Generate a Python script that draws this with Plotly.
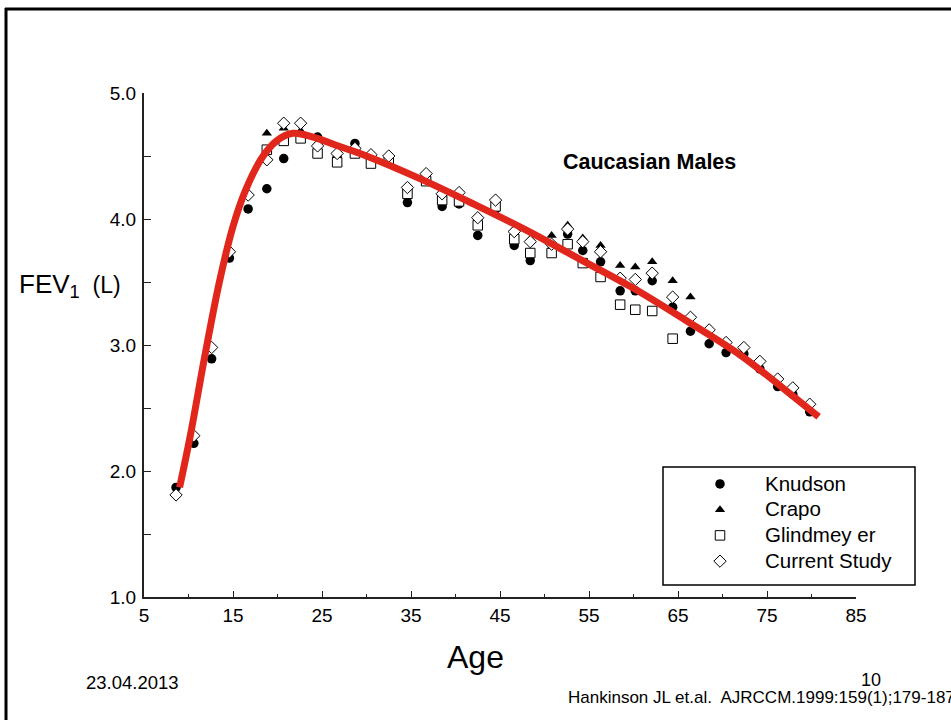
import plotly.graph_objects as go

# ---- data ----
ages = [8.6, 10.6, 12.6, 14.6, 16.7, 18.8, 20.7, 22.6, 24.5, 26.7, 28.7, 30.5, 32.5,
        34.6, 36.7, 38.5, 40.4, 42.5, 44.5, 46.6, 48.4, 50.8, 52.6, 54.3, 56.3, 58.5,
        60.2, 62.1, 64.4, 66.4, 68.5, 70.4, 72.4, 74.2, 76.2, 77.9, 79.8]

knudson = [1.87, 2.22, 2.89, 3.69, 4.08, 4.24, 4.48, 4.64, 4.65, 4.49, 4.60, 4.47, 4.46,
           4.13, 4.31, 4.10, 4.12, 3.87, 4.08, 3.79, 3.67, 3.75, 3.88, 3.75, 3.66, 3.43,
           3.43, 3.51, 3.30, 3.11, 3.01, 2.94, 2.93, 2.81, 2.67, 2.61, 2.47]

crapo_ages = ages[5:30]
crapo = [4.68, 4.72, 4.70, 4.60, 4.50, 4.58, 4.49, 4.49, 4.23, 4.33, 4.19, 4.18, 4.01,
         4.12, 3.92, 3.84, 3.87, 3.95, 3.85, 3.79, 3.63, 3.62, 3.66, 3.51, 3.38]

glind_ages = ages[5:29]
glindmeyer = [4.55, 4.62, 4.64, 4.52, 4.45, 4.52, 4.44, 4.46, 4.20, 4.30, 4.15, 4.14, 3.95,
              4.10, 3.84, 3.73, 3.73, 3.80, 3.65, 3.54, 3.32, 3.28, 3.27, 3.05]

current = [1.81, 2.28, 2.98, 3.74, 4.19, 4.47, 4.76, 4.76, 4.58, 4.52, 4.56, 4.51, 4.50,
           4.25, 4.36, 4.20, 4.21, 4.01, 4.15, 3.90, 3.82, 3.80, 3.92, 3.82, 3.74, 3.53,
           3.52, 3.57, 3.38, 3.22, 3.12, 3.02, 2.98, 2.87, 2.73, 2.66, 2.53]

curve_age = [9.0, 10.2, 11.8, 13.5, 15.0, 16.3, 18.2, 19.9, 21.7, 24.0, 27.0, 30.0,
             36.0, 42.0, 48.0, 54.0, 60.0, 66.0, 72.0, 78.0, 80.8]
curve_fev = [1.87, 2.28, 2.90, 3.51, 3.94, 4.21, 4.48, 4.62, 4.68, 4.65, 4.575, 4.50,
             4.32, 4.12, 3.91, 3.68, 3.45, 3.19, 2.92, 2.59, 2.43]

x_ticks = [5, 15, 25, 35, 45, 55, 65, 75, 85]
y_ticks = [1.0, 2.0, 3.0, 4.0, 5.0]

FONT = "Liberation Sans, Arial, sans-serif"
W, H = 951, 720
L, R, T, B = 144, 95, 93, 123
PW, PH = W - L - R, H - T - B


def px(x):
    return (x - L) / PW


def py(y):
    return (H - B - y) / PH


def big(s):
    return "<span style='font-size:20.5px'>" + s + "</span>"


fig = go.Figure()
fig.add_trace(go.Scatter(x=ages, y=knudson, mode="markers", name=big("Knudson"),
                         marker=dict(symbol="circle", size=9.5, color="#000")))
fig.add_trace(go.Scatter(x=crapo_ages, y=crapo, mode="markers", name=big("Crapo"),
                         marker=dict(symbol="triangle-up", size=9, color="#000")))
fig.add_trace(go.Scatter(x=glind_ages, y=glindmeyer, mode="markers", name=big("Glindmey er"),
                         marker=dict(symbol="square", size=9.5, color="#fff",
                                     line=dict(color="#000", width=1))))
fig.add_trace(go.Scatter(x=ages, y=current, mode="markers", name=big("Current Study"),
                         marker=dict(symbol="diamond", size=9.5, color="#fff",
                                     line=dict(color="#000", width=1))))
fig.add_trace(go.Scatter(x=curve_age, y=curve_fev, mode="lines", showlegend=False,
                         line=dict(color="#e1261c", width=7, shape="spline", smoothing=1.0),
                         cliponaxis=False))

fig.update_layout(
    width=W, height=H, autosize=False,
    margin=dict(l=L, r=R, t=T, b=B, pad=0),
    paper_bgcolor="white", plot_bgcolor="white",
    font=dict(family=FONT, color="#000"),
    xaxis=dict(range=[5, 85], tickvals=x_ticks, ticks="inside", ticklen=6, tickwidth=1.2,
               tickcolor="#222", showline=True, linecolor="#222", linewidth=2,
               showgrid=False, zeroline=False, tickfont=dict(size=19, color="#000"),
               minor=dict(dtick=5, tick0=5, ticks="inside", ticklen=3, tickcolor="#222")),
    yaxis=dict(range=[1, 5], tickvals=y_ticks, tickformat=".1f", ticks="inside", ticklen=7,
               tickwidth=1.2, tickcolor="#222", showline=True, linecolor="#222", linewidth=2,
               showgrid=False, zeroline=False, tickfont=dict(size=19, color="#000"),
               ticklabelstandoff=2,
               minor=dict(dtick=0.5, tick0=1, ticks="inside", ticklen=7, tickcolor="#222")),
    legend=dict(x=px(675), y=py(466), xanchor="left", yanchor="top",
                bgcolor="rgba(0,0,0,0)", borderwidth=0,
                font=dict(size=17.5, family=FONT, color="#000"), itemwidth=80),
    showlegend=True,
)

shapes = [
    dict(type="rect", xref="paper", yref="paper", x0=px(663), x1=px(915), y0=py(585), y1=py(467),
         line=dict(color="#000", width=1.5), fillcolor="rgba(0,0,0,0)", layer="below"),
    dict(type="line", xref="paper", yref="paper", x0=px(6), x1=px(6), y0=py(8), y1=py(720),
         line=dict(color="#000", width=3)),
    dict(type="line", xref="paper", yref="paper", x0=px(5), x1=px(951), y0=py(9), y1=py(9),
         line=dict(color="#000", width=3)),
]
fig.update_layout(shapes=shapes)

anns = [
    dict(text="<b>Caucasian Males</b>", x=px(649), y=py(162), font=dict(size=21.5)),
    dict(text="FEV<sub>1</sub><span style='font-size:23px'>  (L)</span>", x=px(70), y=py(285),
         font=dict(size=26)),
    dict(text="Age", x=px(475), y=py(657), font=dict(size=32)),
    dict(text="23.04.2013", x=px(132), y=py(682), font=dict(size=18.5)),
    dict(text="10", x=px(871), y=py(680), font=dict(size=18)),
    dict(text="Hankinson JL et.al.  AJRCCM.1999:159(1);179-187", x=px(566), y=py(697),
         xanchor="left", font=dict(size=17)),
]
for a in anns:
    a.setdefault("xanchor", "center")
    fig.add_annotation(xref="paper", yref="paper", showarrow=False, yanchor="middle",
                       font_family=FONT, font_color="#000", **a)

fig.write_html("out.html")
